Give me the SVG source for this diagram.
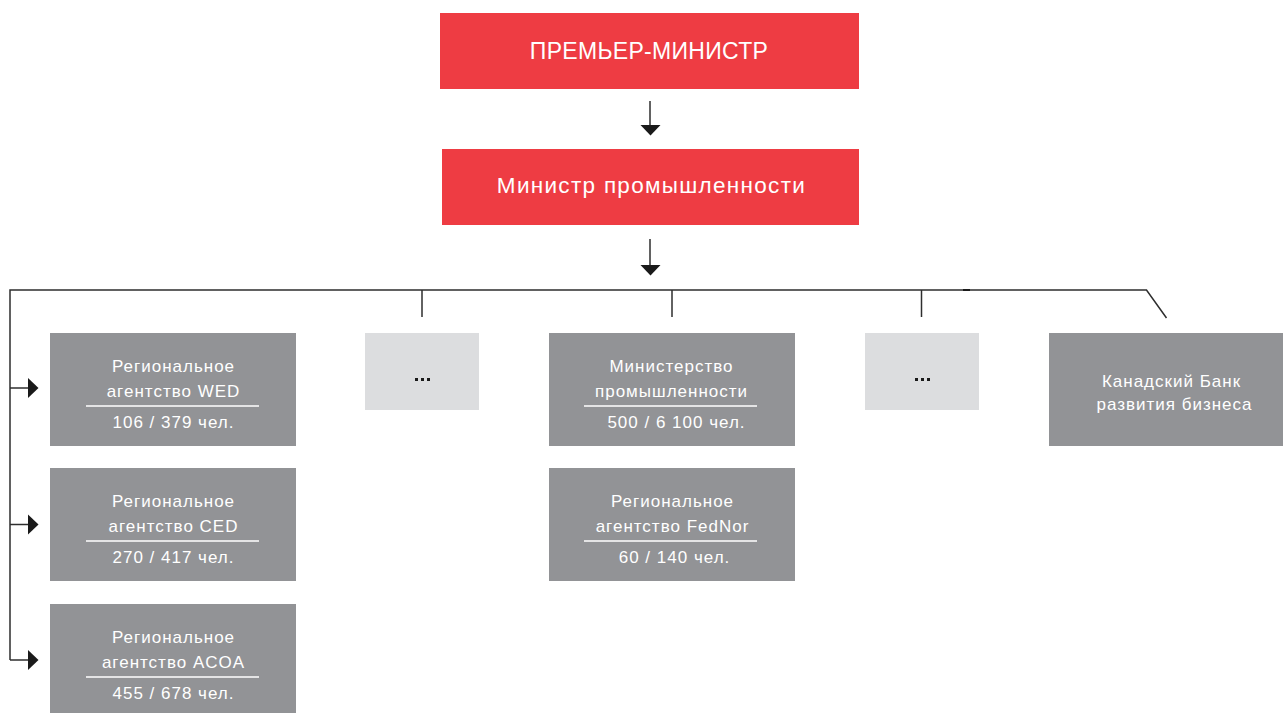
<svg xmlns="http://www.w3.org/2000/svg" width="1283" height="713" viewBox="0 0 1283 713">
  <defs>
    <style>
      .red { fill: #ee3c43; }
      .gray { fill: #929396; }
      .light { fill: #dcdddf; }
      .title { font-family: "Liberation Sans", Arial, sans-serif; fill: #ffffff; text-anchor: middle; }
      .lbl { font-family: "Liberation Sans", Arial, sans-serif; font-size: 17px; letter-spacing: 1px; fill: #ffffff; text-anchor: middle; }
      .sep { stroke: #ffffff; stroke-width: 1.3; }
      .wire { stroke: #2e2e2e; stroke-width: 1.5; fill: none; }
      .head { fill: #1a1a1a; }
      .dots { fill: #1a1a1a; }
    </style>
  </defs>

  <!-- connectors -->
  <g id="connectors">
    <!-- vertical arrows between the red boxes -->
    <line class="wire" x1="650" y1="101" x2="650" y2="126"/>
    <path class="head" d="M640.5,125 L660.5,125 L650.5,135.5 Z"/>
    <line class="wire" x1="650" y1="239" x2="650" y2="266"/>
    <path class="head" d="M640.5,265 L660.5,265 L650.5,275.5 Z"/>

    <!-- distribution bus -->
    <polyline class="wire" points="10,660 10,290 1146.5,290 1166.5,318"/>
    <line class="wire" x1="422" y1="290" x2="422" y2="317"/>
    <line class="wire" x1="672" y1="290" x2="672" y2="317"/>
    <line class="wire" x1="921.5" y1="290" x2="921.5" y2="317"/>
    <rect x="963" y="289" width="7" height="2" fill="#1a1a1a"/>

    <!-- side arrows into the regional agencies -->
    <line class="wire" x1="10" y1="388" x2="29" y2="388"/>
    <path class="head" d="M28,378 L38.5,388 L28,398 Z"/>
    <line class="wire" x1="10" y1="524.5" x2="29" y2="524.5"/>
    <path class="head" d="M28,514.5 L38.5,524.5 L28,534.5 Z"/>
    <line class="wire" x1="10" y1="660" x2="29" y2="660"/>
    <path class="head" d="M28,650 L38.5,660 L28,670 Z"/>
  </g>

  <g id="prime-minister">
    <rect class="red" x="440" y="13" width="419" height="76"/>
    <text class="title" x="649" y="59" font-size="23" letter-spacing="0.3">ПРЕМЬЕР-МИНИСТР</text>
  </g>

  <g id="minister-industry">
    <rect class="red" x="442" y="149" width="417" height="76"/>
    <text class="title" x="651.5" y="193" font-size="22.5" letter-spacing="1.3">Министр промышленности</text>
  </g>

  <g id="agency-wed">
    <rect class="gray" x="50" y="333" width="246" height="113"/>
    <text class="lbl" x="173.5" y="371.5">Региональное</text>
    <text class="lbl" x="173.5" y="396.5">агентство WED</text>
    <line class="sep" x1="86" y1="406" x2="259" y2="406"/>
    <text class="lbl" x="173.5" y="427.5">106 / 379 чел.</text>
  </g>

  <g id="agency-ced">
    <rect class="gray" x="50" y="468" width="246" height="113"/>
    <text class="lbl" x="173.5" y="506.5">Региональное</text>
    <text class="lbl" x="173.5" y="531.5">агентство CED</text>
    <line class="sep" x1="86" y1="541" x2="259" y2="541"/>
    <text class="lbl" x="173.5" y="562.5">270 / 417 чел.</text>
  </g>

  <g id="agency-acoa">
    <rect class="gray" x="50" y="604" width="246" height="109"/>
    <text class="lbl" x="173.5" y="642.5">Региональное</text>
    <text class="lbl" x="173.5" y="667.5">агентство ACOA</text>
    <line class="sep" x1="86" y1="677" x2="259" y2="677"/>
    <text class="lbl" x="173.5" y="698.5">455 / 678 чел.</text>
  </g>

  <g id="placeholder-1">
    <rect class="light" x="365" y="333" width="114" height="77"/>
    <rect class="dots" x="415" y="378" width="3" height="3"/>
    <rect class="dots" x="421" y="378" width="3" height="3"/>
    <rect class="dots" x="427" y="378" width="3" height="3"/>
  </g>

  <g id="ministry-industry">
    <rect class="gray" x="549" y="333" width="246" height="113"/>
    <text class="lbl" x="671.5" y="371.5">Министерство</text>
    <text class="lbl" x="671.5" y="396.5">промышленности</text>
    <line class="sep" x1="584" y1="406" x2="757" y2="406"/>
    <text class="lbl" x="676.5" y="427.5">500 / 6 100 чел.</text>
  </g>

  <g id="agency-fednor">
    <rect class="gray" x="549" y="468" width="246" height="113"/>
    <text class="lbl" x="672.5" y="506.5">Региональное</text>
    <text class="lbl" x="672.5" y="531.5">агентство FedNor</text>
    <line class="sep" x1="584" y1="541" x2="757" y2="541"/>
    <text class="lbl" x="674.5" y="562.5">60 / 140 чел.</text>
  </g>

  <g id="placeholder-2">
    <rect class="light" x="865" y="333" width="114" height="77"/>
    <rect class="dots" x="915" y="378" width="3" height="3"/>
    <rect class="dots" x="921" y="378" width="3" height="3"/>
    <rect class="dots" x="927" y="378" width="3" height="3"/>
  </g>

  <g id="bdc">
    <rect class="gray" x="1049" y="333" width="234" height="113"/>
    <text class="lbl" x="1171.5" y="386.5">Канадский Банк</text>
    <text class="lbl" x="1174.5" y="410">развития бизнеса</text>
  </g>
</svg>
